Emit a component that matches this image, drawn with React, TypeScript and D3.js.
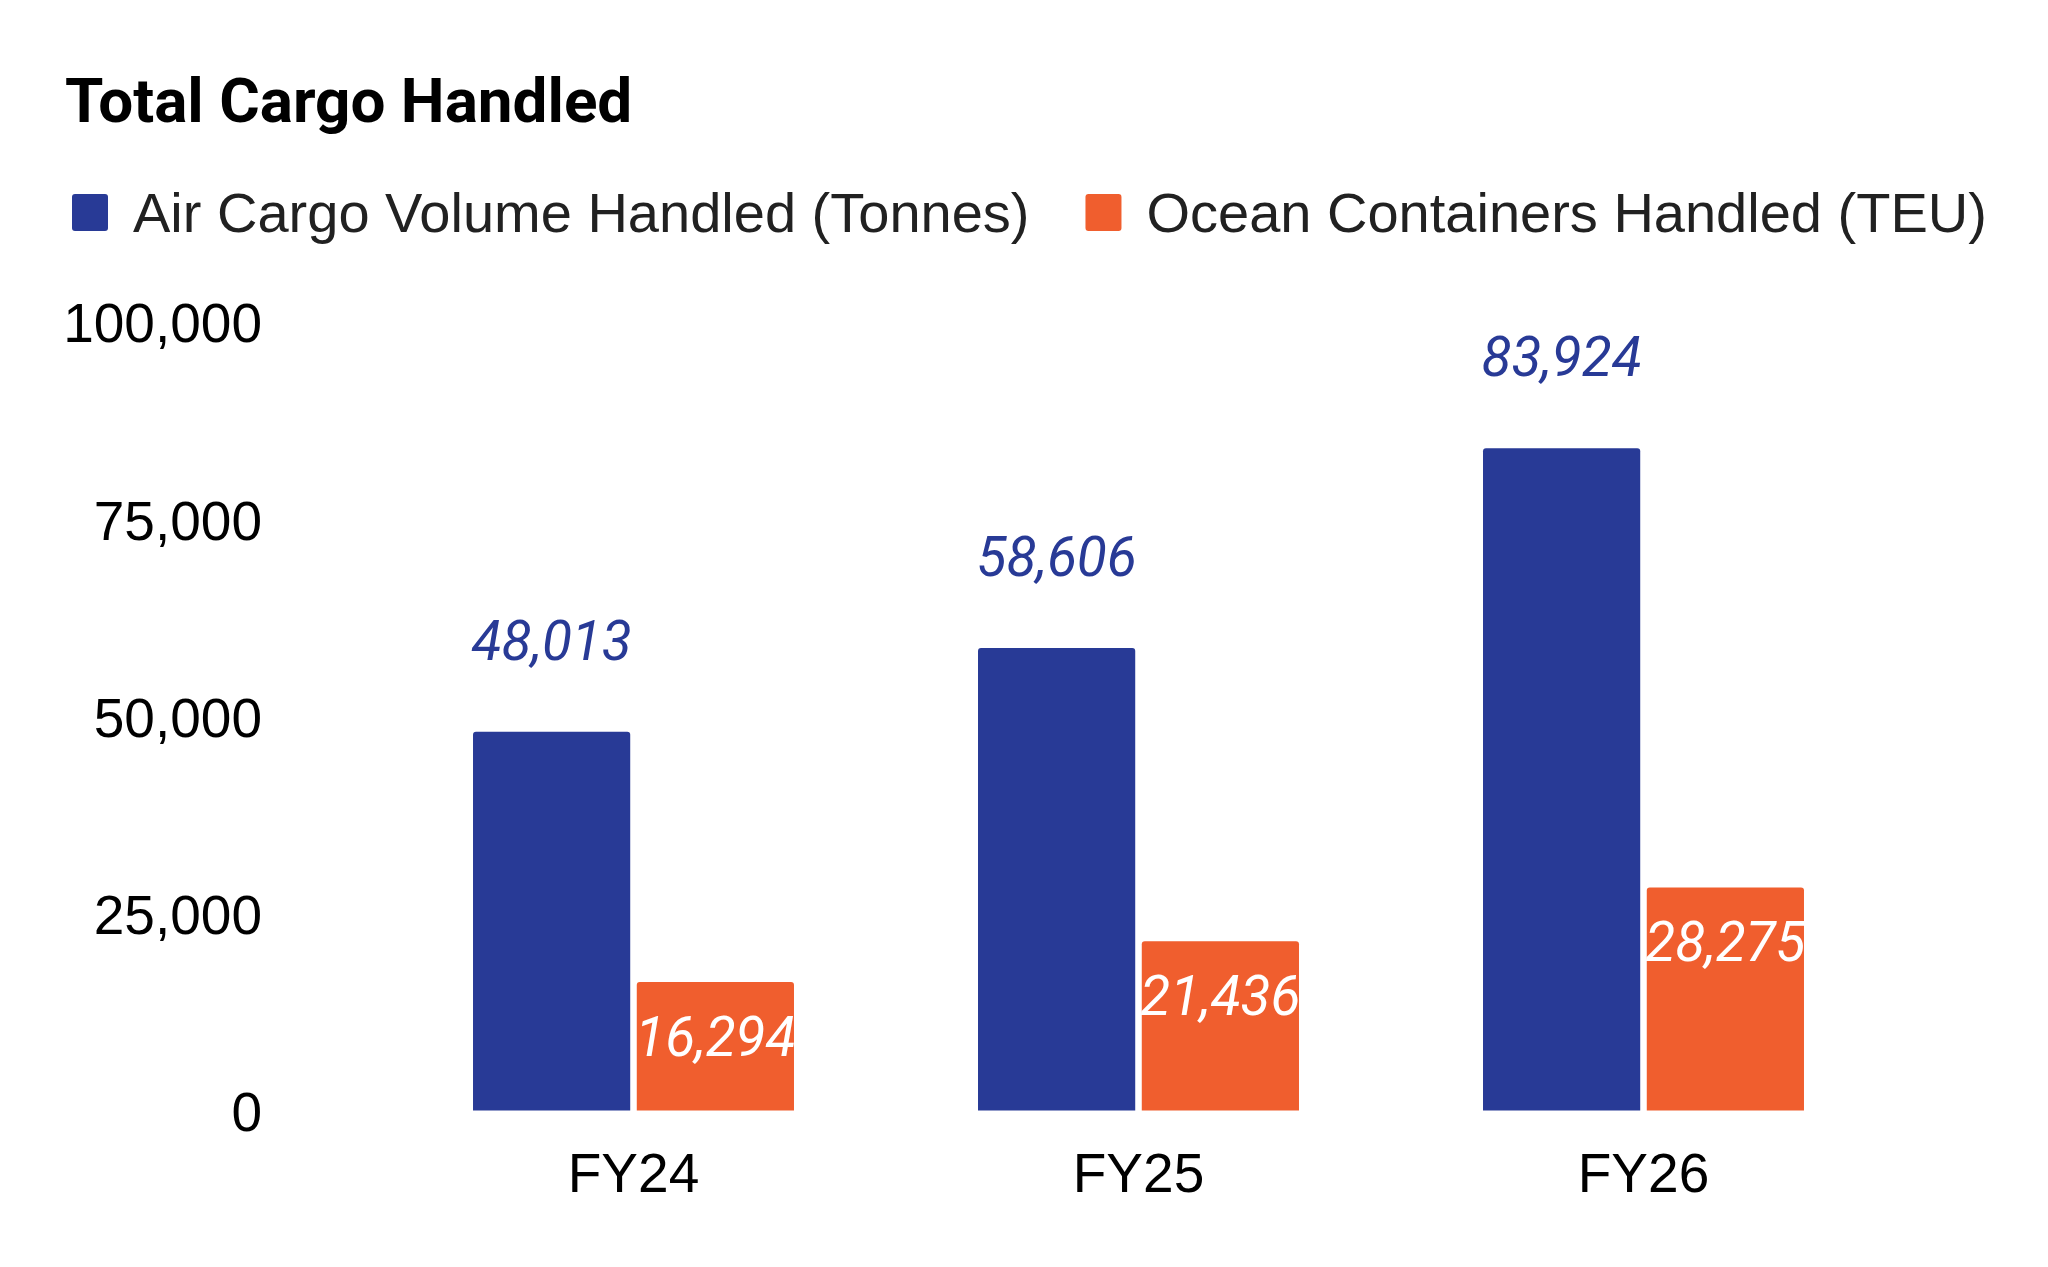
import { useEffect, useRef } from "react";
import * as d3 from "d3";

const categories = ["FY24", "FY25", "FY26"];
const seriesNames = ["Air Cargo Volume Handled (Tonnes)", "Ocean Containers Handled (TEU)"];
const airCargo = [48013, 58606, 83924];
const oceanTeu = [16294, 21436, 28275];
const yTicks = [0, 25000, 50000, 75000, 100000];

const COLORS = ["#283A96", "#F05E2E"];
const W = 2048;
const H = 1267;
const SANS = "'Liberation Sans', Arial, sans-serif";
const ROBOTO = "Roboto, 'Noto Sans', sans-serif";

export default function App() {
  const svgRef = useRef<SVGSVGElement>(null);

  useEffect(() => {
    if (!svgRef.current) return;
    const svg = d3.select(svgRef.current);
    svg.selectAll("*").remove();

    svg.append("rect").attr("width", W).attr("height", H).attr("fill", "#fff");

    // title
    svg.append("text")
      .attr("x", 65)
      .attr("y", 122)
      .attr("font-family", ROBOTO)
      .attr("font-weight", 700)
      .attr("font-size", 62)
      .attr("fill", "#000")
      .text("Total Cargo Handled");

    // legend, laid out by measured text
    let lx = 72;
    seriesNames.forEach((name, i) => {
      svg.append("rect")
        .attr("x", lx).attr("y", 194)
        .attr("width", 36).attr("height", 37)
        .attr("rx", 3)
        .attr("fill", COLORS[i]);
      const t = svg.append("text")
        .attr("x", lx + 61)
        .attr("y", 232)
        .attr("font-family", SANS)
        .attr("font-size", 56)
        .attr("fill", "#212121")
        .text(name);
      const len = (t.node() as SVGTextElement).getComputedTextLength();
      lx = lx + 61 + len + 56;
    });

    const x0 = d3.scaleBand<string>()
      .domain(categories)
      .range([300, 1977])
      .paddingInner(0.3644)
      .paddingOuter(0.3426);
    const x1 = d3.scaleBand<number>()
      .domain([0, 1])
      .range([0, x0.bandwidth()])
      .paddingInner(0.04);
    const y = d3.scaleLinear().domain([0, 100000]).range([1110.5, 321.5]);

    // y axis
    const yAxis = svg.append("g")
      .attr("transform", "translate(262,0)")
      .call(d3.axisLeft(y).tickValues(yTicks).tickFormat(d3.format(",") as any).tickSize(0).tickPadding(0));
    yAxis.select(".domain").remove();
    yAxis.selectAll("text")
      .attr("font-family", SANS)
      .attr("font-size", 55)
      .attr("fill", "#000")
      .attr("dy", "0.37em");

    // x axis
    const xAxis = svg.append("g")
      .attr("transform", `translate(0,${y(0)})`)
      .call(d3.axisBottom(x0).tickSize(0).tickPadding(42));
    xAxis.select(".domain").remove();
    xAxis.selectAll("text")
      .attr("font-family", SANS)
      .attr("font-size", 55)
      .attr("fill", "#000");

    const series = [airCargo, oceanTeu];
    const r = 3;
    series.forEach((vals, si) => {
      const g = svg.append("g");
      vals.forEach((v, ci) => {
        const bx = (x0(categories[ci]) ?? 0) + (x1(si) ?? 0);
        const bw = x1.bandwidth();
        const top = y(v);
        const bottom = y(0);
        const p = d3.path();
        p.moveTo(bx, bottom);
        p.lineTo(bx, top + r);
        p.quadraticCurveTo(bx, top, bx + r, top);
        p.lineTo(bx + bw - r, top);
        p.quadraticCurveTo(bx + bw, top, bx + bw, top + r);
        p.lineTo(bx + bw, bottom);
        p.closePath();
        g.append("path").attr("d", p.toString()).attr("fill", COLORS[si]);

        g.append("text")
          .attr("x", bx + bw / 2)
          .attr("y", si === 0 ? top - 72 : top + 74)
          .attr("text-anchor", "middle")
          .attr("font-family", ROBOTO)
          .attr("font-style", "italic")
          .attr("font-size", 55)
          .attr("fill", si === 0 ? COLORS[0] : "#fff")
          .text(d3.format(",")(v));
      });
    });
  }, []);

  return (
    <div style={{ position: "absolute", left: 0, top: 0, width: W, height: H }}>
      <svg ref={svgRef} width={W} height={H} style={{ display: "block" }} />
    </div>
  );
}
